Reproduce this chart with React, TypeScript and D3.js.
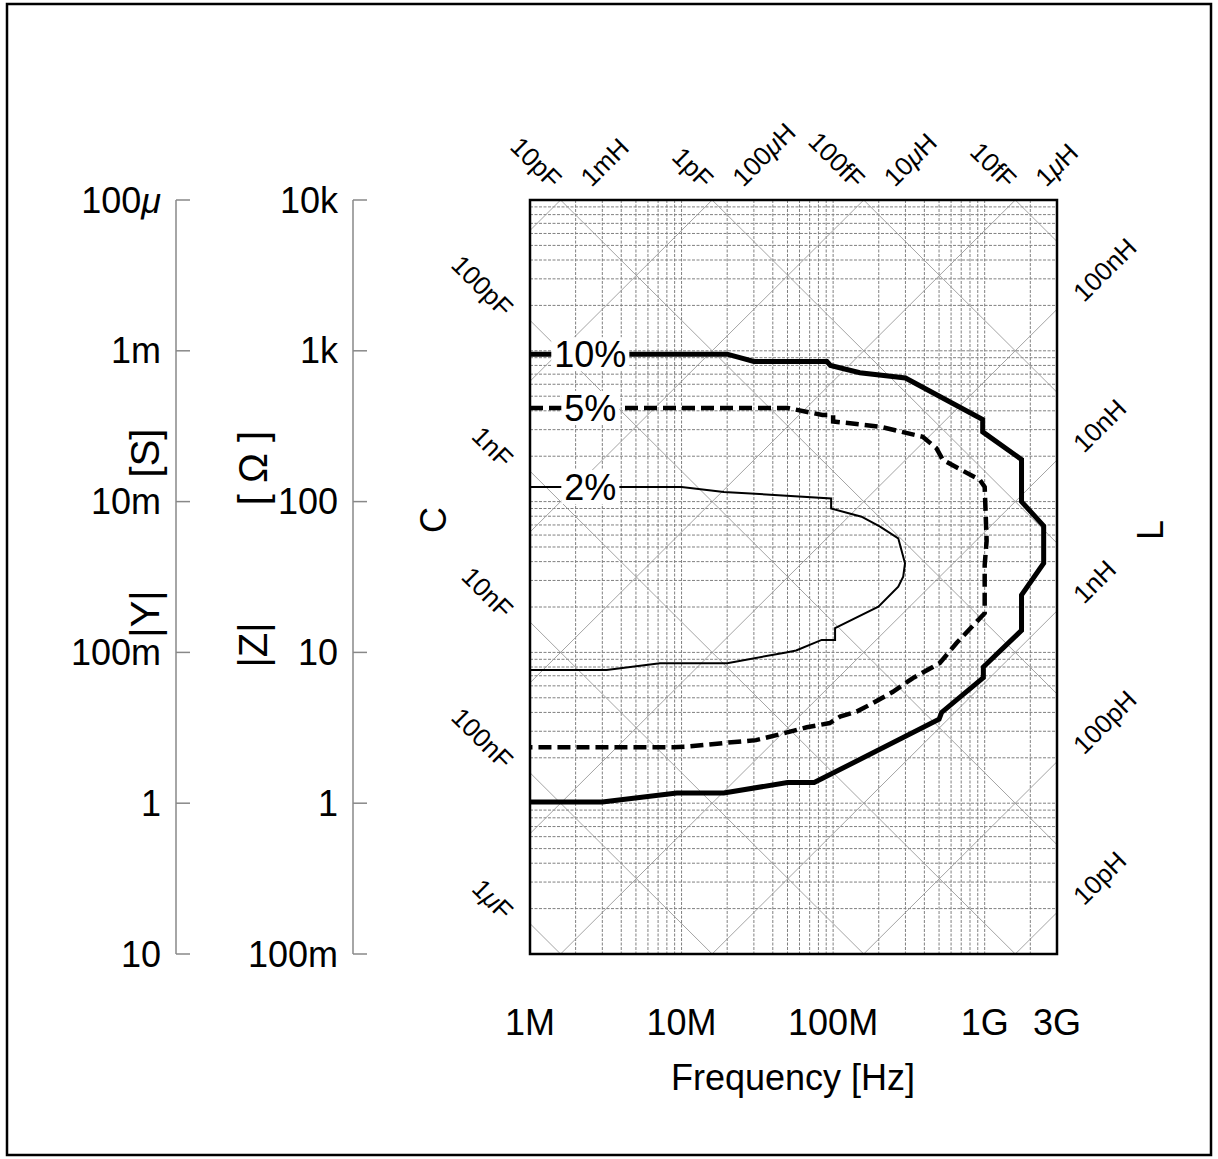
import React from 'react';
import * as d3 from 'd3';

const W = 1218;
const H = 1159;
const FONT = "'Liberation Sans', Arial, Helvetica, sans-serif";

// ---- data ----
const freqTicks = [1e6, 1e7, 1e8, 1e9, 3e9];
const freqTickLabels = ['1M', '10M', '100M', '1G', '3G'];
const zTicks = [1e4, 1e3, 1e2, 10, 1, 0.1];
const zTickLabels = ['10k', '1k', '100', '10', '1', '100m'];
const yTickLabels = ['100μ', '1m', '10m', '100m', '1', '10'];
const capValues = [1e-14, 1e-13, 1e-12, 1e-11, 1e-10, 1e-9, 1e-8, 1e-7, 1e-6];
const capLabels = ['10fF', '100fF', '1pF', '10pF', '100pF', '1nF', '10nF', '100nF', '1μF'];
const indValues = [1e-11, 1e-10, 1e-9, 1e-8, 1e-7, 1e-6, 1e-5, 1e-4, 1e-3];
const indLabels = ['10pH', '100pH', '1nH', '10nH', '100nH', '1μH', '10μH', '100μH', '1mH'];

// accuracy contours: [frequency Hz, |Z| ohm]
const curve10: [number, number][] = [
  [1e6, 950], [20e6, 950], [30e6, 850], [91e6, 850], [96e6, 800], [150e6, 715], [300e6, 660],
  [970e6, 350], [970e6, 290], [1.75e9, 190], [1.75e9, 100], [2.45e9, 69], [2.45e9, 39],
  [1.75e9, 24], [1.75e9, 14], [980e6, 8], [980e6, 6.8], [520e6, 4], [500e6, 3.6],
  [75e6, 1.37], [50e6, 1.37], [19e6, 1.17], [9.3e6, 1.17], [3e6, 1.02], [1e6, 1.02],
];
const curve5: [number, number][] = [
  [1e6, 418], [50e6, 418], [85e6, 375], [100e6, 375], [100e6, 340], [204e6, 314], [390e6, 269],
  [480e6, 226], [530e6, 189], [930e6, 139], [1e9, 125], [1.03e9, 55], [1e9, 38], [1e9, 18.2],
  [650e6, 11.5], [506e6, 8.5], [336e6, 6.76], [248e6, 5.48], [183e6, 4.61], [143e6, 4.05],
  [111e6, 3.75], [95e6, 3.4], [67e6, 3.19], [52e6, 2.98], [31e6, 2.62], [20e6, 2.52],
  [10.8e6, 2.37], [8.8e6, 2.35], [1e6, 2.35],
];
const curve2: [number, number][] = [
  [1e6, 125], [10e6, 125], [19e6, 116], [97e6, 105], [97e6, 90], [154e6, 79.4], [204e6, 68.2],
  [269e6, 57.1], [298e6, 39], [290e6, 31.8], [269e6, 27.3], [199e6, 20.1], [103e6, 14.5],
  [103e6, 12.1], [84e6, 12.1], [57e6, 10.3], [49e6, 10], [20e6, 8.47], [7.2e6, 8.47],
  [3.2e6, 7.64], [1e6, 7.64],
];
const curveNames = ['10%', '5%', '2%'];

function withMu(s: string) {
  const parts = s.split('μ');
  const out: React.ReactNode[] = [];
  parts.forEach((p, i) => {
    if (i > 0) out.push(<tspan key={'m' + i} fontStyle="italic">μ</tspan>);
    if (p) out.push(p);
  });
  return out;
}

export default function App() {
  const x0 = 530, x1 = 1057, y0 = 200, y1 = 954;
  const x = d3.scaleLog().domain([1e6, 3e9]).range([x0, x1]);
  const y = d3.scaleLog().domain([1e4, 0.1]).range([y0, y1]);
  const line = d3.line<[number, number]>().x(d => x(d[0])).y(d => y(d[1]));

  const vGrid: number[] = [];
  for (let d = 6; d <= 9; d++) for (let k = 1; k <= 9; k++) { const f = k * Math.pow(10, d); if (f <= 3e9 * 1.0001) vGrid.push(f); }
  const hGrid: number[] = [];
  for (let d = -1; d <= 3; d++) for (let k = 1; k <= 9; k++) { const z = k * Math.pow(10, d); if (z <= 1e4 * 1.0001) hGrid.push(z); }

  const twoPi = 2 * Math.PI;
  const capLines = capValues.map((C, i) => {
    const fTop = 1 / (twoPi * C * 1e4);
    const fBot = 1 / (twoPi * C * 0.1);
    const fs = Math.max(1e6, fTop), fe = Math.min(3e9, fBot);
    return { C, label: capLabels[i], fTop, fs, fe };
  });
  const indLines = indValues.map((L, i) => {
    const fBot = 0.1 / (twoPi * L);
    const fTop = 1e4 / (twoPi * L);
    const fs = Math.max(1e6, fBot), fe = Math.min(3e9, fTop);
    return { L, label: indLabels[i], fTop, fs, fe };
  });

  const bigFont = 36;
  const titleFont = 40;
  const diagFont = 26;
  const curves = [curve10, curve5, curve2];
  const curveStyles = [
    { w: 5, dash: undefined as string | undefined },
    { w: 4.5, dash: '13,6' },
    { w: 2, dash: undefined as string | undefined },
  ];
  const labelF = 2.5e6;

  return (
    <svg width={W} height={H} style={{ position: 'absolute', left: 0, top: 0, background: '#fff' }} fontFamily={FONT}>
      <rect x={0} y={0} width={W} height={H} fill="#fff" />
      <rect x={7} y={4} width={1204} height={1151} fill="none" stroke="#000" strokeWidth={2.5} />

      {/* left axes */}
      {[{ ax: 176, labels: yTickLabels }, { ax: 353, labels: zTickLabels }].map((a, ai) => (
        <g key={ai}>
          <line x1={a.ax} x2={a.ax} y1={y(1e4)} y2={y(0.1)} stroke="#888" strokeWidth={1.5} />
          {zTicks.map((z, i) => (
            <g key={i}>
              <line x1={a.ax} x2={a.ax + 14} y1={y(z)} y2={y(z)} stroke="#888" strokeWidth={1.5} />
              <text x={a.ax - 15} y={y(z)} dy="0.35em" textAnchor="end" fontSize={bigFont}>{withMu(a.labels[i])}</text>
            </g>
          ))}
        </g>
      ))}
      <text transform={`translate(159,453) rotate(-90)`} textAnchor="middle" fontSize={titleFont}>[S]</text>
      <text transform={`translate(159,614) rotate(-90)`} textAnchor="middle" fontSize={titleFont}>|Y|</text>
      <text transform={`translate(267,468) rotate(-90)`} textAnchor="middle" fontSize={titleFont}>[ Ω ]</text>
      <text transform={`translate(267,645) rotate(-90)`} textAnchor="middle" fontSize={titleFont}>|Z|</text>

      {/* grid */}
      <g stroke="#808080" strokeWidth={1} strokeDasharray="3,1.5">
        {vGrid.map((f, i) => <line key={'v' + i} x1={x(f)} x2={x(f)} y1={y0} y2={y1} />)}
        {hGrid.map((z, i) => <line key={'h' + i} x1={x0} x2={x1} y1={y(z)} y2={y(z)} />)}
      </g>
      {/* diagonal C and L lines */}
      <g stroke="#9a9a9a" strokeWidth={0.9}>
        {capLines.filter(c => c.fs < c.fe).map((c, i) => (
          <line key={'c' + i} x1={x(c.fs)} y1={y(1 / (twoPi * c.fs * c.C))} x2={x(c.fe)} y2={y(1 / (twoPi * c.fe * c.C))} />
        ))}
        {indLines.filter(c => c.fs < c.fe).map((c, i) => (
          <line key={'l' + i} x1={x(c.fs)} y1={y(twoPi * c.fs * c.L)} x2={x(c.fe)} y2={y(twoPi * c.fe * c.L)} />
        ))}
      </g>
      {/* diagonal labels */}
      {capLines.map((c, i) => {
        if (c.fTop > 1e6) {
          const px = x(c.fTop) - 10, py = y0 - 10;
          return <text key={'cl' + i} transform={`translate(${px},${py}) rotate(45)`} textAnchor="end" fontSize={diagFont}>{withMu(c.label)}</text>;
        }
        const zc = 1 / (twoPi * 1e6 * c.C);
        const px = x0 - 28, py = y(zc) - 2;
        return <text key={'cl' + i} transform={`translate(${px},${py}) rotate(45)`} textAnchor="end" fontSize={diagFont}>{withMu(c.label)}</text>;
      })}
      {indLines.map((c, i) => {
        if (c.fTop < 3e9) {
          const px = x(c.fTop) + 31, py = y0 - 12;
          return <text key={'ll' + i} transform={`translate(${px},${py}) rotate(-45)`} textAnchor="start" fontSize={diagFont}>{withMu(c.label)}</text>;
        }
        const zc = twoPi * 3e9 * c.L;
        const px = x1 + 27, py = y(zc) - 6;
        return <text key={'ll' + i} transform={`translate(${px},${py}) rotate(-45)`} textAnchor="start" fontSize={diagFont}>{withMu(c.label)}</text>;
      })}

      {/* contours */}
      {curves.map((cv, i) => (
        <path key={'cv' + i} d={line(cv) || ''} fill="none" stroke="#000" strokeWidth={curveStyles[i].w}
          strokeDasharray={curveStyles[i].dash} strokeLinejoin="miter" />
      ))}
      {curves.map((cv, i) => {
        const name = curveNames[i];
        const tw = (name.length - 1) * 0.556 * bigFont + 0.889 * bigFont;
        const cx = x(labelF), cy = y(cv[0][1]);
        return (
          <g key={'lab' + i}>
            <rect x={cx - tw / 2 - 3} y={cy - 17} width={tw + 6} height={34} fill="#fff" />
            <text x={cx} y={cy} dy="0.35em" textAnchor="middle" fontSize={bigFont}>{name}</text>
          </g>
        );
      })}

      {/* plot border */}
      <rect x={x0} y={y0} width={x1 - x0} height={y1 - y0} fill="none" stroke="#000" strokeWidth={2.5} />

      {/* bottom axis */}
      {freqTicks.map((f, i) => (
        <text key={'ft' + i} x={x(f)} y={1035} textAnchor="middle" fontSize={bigFont}>{freqTickLabels[i]}</text>
      ))}
      <text x={793} y={1090} textAnchor="middle" fontSize={bigFont}>Frequency [Hz]</text>
      <text transform={`translate(446,520) rotate(-90)`} textAnchor="middle" fontSize={bigFont}>C</text>
      <text transform={`translate(1163,530) rotate(-90)`} textAnchor="middle" fontSize={bigFont}>L</text>
    </svg>
  );
}
